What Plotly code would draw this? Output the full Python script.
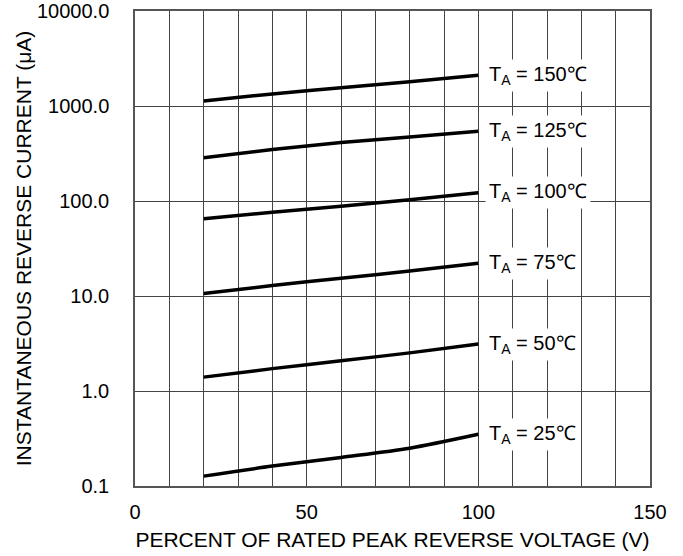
import math
import plotly.graph_objects as go

x_pct = [20, 40, 60, 80, 100]
temps = ["150", "125", "100", "75", "50", "25"]
i_150 = [1130, 1340, 1560, 1800, 2110]
i_125 = [286, 348, 412, 473, 541]
i_100 = [65, 76, 88, 103, 122]
i_75 = [10.6, 12.9, 15.4, 18.3, 22.1]
i_50 = [1.40, 1.72, 2.08, 2.52, 3.12]
i_25 = [0.127, 0.162, 0.200, 0.250, 0.350]
series = [i_150, i_125, i_100, i_75, i_50, i_25]

y_ticks = [0.1, 1, 10, 100, 1000, 10000]
y_labels = ["0.1", "1.0", "10.0", "100.0", "1000.0", "10000.0"]
x_ticks = list(range(0, 151, 10))
x_labels = [str(v) if v % 50 == 0 else "" for v in x_ticks]

font = "Liberation Sans, Arial, sans-serif"
fs = 20
fig = go.Figure()
for t, ys in zip(temps, series):
    fig.add_trace(go.Scatter(x=x_pct, y=ys, mode="lines",
                             line=dict(color="black", width=3.5, shape="spline", smoothing=0.8),
                             showlegend=False, hoverinfo="skip"))
    fig.add_annotation(x=102, y=math.log10(ys[-1]), yref="y", xref="x", xanchor="left", yanchor="middle",
                       text="T<sub>A</sub> = " + t + "℃", showarrow=False, bgcolor="white", borderpad=3,
                       font=dict(family=font, size=fs, color="black"))

axis_common = dict(showline=True, linecolor="#555", linewidth=1.5, mirror=True, automargin=False,
                   showgrid=True, gridcolor="#444", gridwidth=1, zeroline=False,
                   tickfont=dict(family=font, size=fs, color="black"))
fig.update_xaxes(range=[0, 150], tickvals=x_ticks, ticktext=x_labels, ticks="", ticklabelstandoff=7,
                 title=dict(text="PERCENT OF RATED PEAK REVERSE VOLTAGE (V)", font=dict(family=font, size=21, color="black"), standoff=11),
                 **axis_common)
fig.update_yaxes(type="log", range=[-1, 4], tickvals=y_ticks, ticktext=y_labels, ticks="", ticklabelstandoff=20,
                 title=dict(text="INSTANTANEOUS REVERSE CURRENT (μA)", font=dict(family=font, size=21, color="black"), standoff=0),
                 **axis_common)
fig.update_layout(width=683, height=556, margin=dict(l=135, r=33, t=11, b=70),
                  plot_bgcolor="white", paper_bgcolor="white", font=dict(family=font, color="black"))
fig.write_html("out.html")
